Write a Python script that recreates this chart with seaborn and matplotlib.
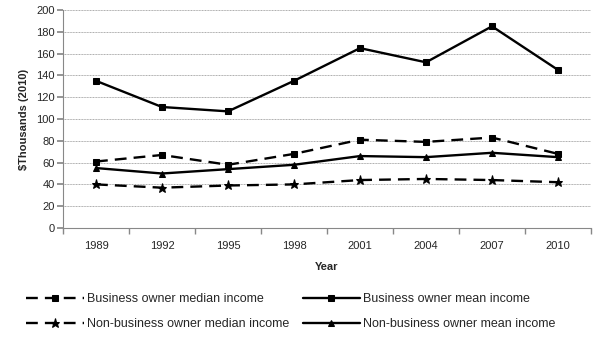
import matplotlib
matplotlib.use("Agg")
import matplotlib.pyplot as plt
import seaborn as sns
import pandas as pd
import numpy as np

years = ["1989", "1992", "1995", "1998", "2001", "2004", "2007", "2010"]
bo_median = [61, 67, 58, 68, 81, 79, 83, 68]
bo_mean = [135, 111, 107, 135, 165, 152, 185, 145]
nbo_median = [40, 37, 39, 40, 44, 45, 44, 42]
nbo_mean = [55, 50, 54, 58, 66, 65, 69, 65]

series = [
    ("Business owner median income", bo_median, "s", (0, (5, 3))),
    ("Business owner mean income", bo_mean, "s", "-"),
    ("Non-business owner median income", nbo_median, "*", (0, (5, 3))),
    ("Non-business owner mean income", nbo_mean, "^", "-"),
]

sns.set_theme(style="white")
plt.rcParams['font.family'] = ['Liberation Sans', 'DejaVu Sans']

fig = plt.figure(figsize=(6, 3.37), dpi=100)
ax = fig.add_axes([0.105, 0.3234, 0.88, 0.647])

pos = np.arange(len(years))
for name, vals, mk, ls in series:
    df = pd.DataFrame({"x": pos, "y": vals})
    sns.lineplot(data=df, x="x", y="y", ax=ax, color="black", linewidth=1.7,
                 linestyle=ls, marker=mk, markersize=5 if mk != "*" else 6.5,
                 markeredgecolor="black", markerfacecolor="black", label=name)

ax.set_xlim(-0.5, len(years) - 0.5)
ax.set_ylim(0, 200)
ax.set_yticks(range(0, 201, 20))
ax.set_xticks(pos)
ax.set_xticklabels(years)
ax.set_xticks(np.arange(-0.5, len(years), 1.0), minor=True)
ax.tick_params(axis="x", which="major", length=0, pad=9, labelsize=8)
ax.tick_params(axis="x", which="minor", length=4, color="#888888", direction="out", bottom=True)
ax.tick_params(axis="y", which="major", length=4, color="#888888", direction="out", left=True, labelsize=8, pad=2)
ax.yaxis.grid(True, linestyle=(0, (1, 0.6)), color="#aaaaaa", linewidth=0.7)
ax.xaxis.grid(False)
for s in ["top", "right"]:
    ax.spines[s].set_visible(False)
for s in ["left", "bottom"]:
    ax.spines[s].set_color("#888888")
    ax.spines[s].set_linewidth(0.8)

ax.set_xlabel("Year", fontsize=8, fontweight="bold", labelpad=8)
ax.set_ylabel(r"\$Thousands (2010)", fontsize=8, fontweight="bold", labelpad=5)

handles, labels = ax.get_legend_handles_labels()
order = [0, 2, 1, 3]
ax.legend([handles[i] for i in order], [labels[i] for i in order],
          loc="upper left", bbox_to_anchor=(-0.07, -0.30),
          ncol=2, frameon=False, fontsize=9, handlelength=4.6,
          handletextpad=0.25, columnspacing=1.1, labelspacing=1.0,
          borderaxespad=0, borderpad=0)

fig.savefig("out.png", dpi=100)
